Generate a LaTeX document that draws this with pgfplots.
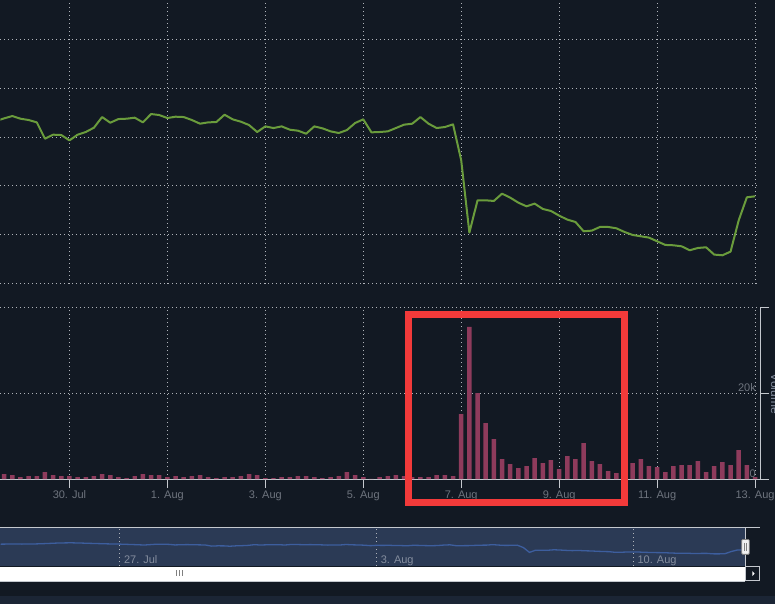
\documentclass[border=0pt]{standalone}
\usepackage{fontspec}
\setmainfont{Liberation Sans}
\usepackage{pgfplots}
\pgfplotsset{compat=1.18}
\usepackage{pgfplotstable}

\definecolor{bg}{HTML}{121923}
\definecolor{strip}{HTML}{1B2535}
\definecolor{gridc}{HTML}{B0B4BA}
\definecolor{axisc}{HTML}{C4C8CE}
\definecolor{labc}{HTML}{6E747E}
\definecolor{pricec}{HTML}{6A9C3C}
\definecolor{volc}{HTML}{8E3B5C}
\definecolor{navfill}{HTML}{2B3A55}
\definecolor{navline}{HTML}{3D5E9E}
\definecolor{navlab}{HTML}{848D9E}
\definecolor{boxred}{HTML}{F23A3A}

% 4-hour candles: idx 8 = 30 Jul 00:00, idx 92 = 13 Aug 00:00
\pgfplotstableread{
idx price
-1 3.327
0 3.381
1 3.429
2 3.374
3 3.347
4 3.299
5 2.965
6 3.047
7 3.040
8 2.931
9 3.047
10 3.102
11 3.190
12 3.408
13 3.292
14 3.367
15 3.374
16 3.395
17 3.299
18 3.470
19 3.449
20 3.388
21 3.415
22 3.408
23 3.347
24 3.272
25 3.299
26 3.306
27 3.456
28 3.361
29 3.313
30 3.245
31 3.102
32 3.217
33 3.183
34 3.217
35 3.149
36 3.129
37 3.067
38 3.217
39 3.177
40 3.115
41 3.081
42 3.142
43 3.286
44 3.361
45 3.095
46 3.102
47 3.115
48 3.183
49 3.252
50 3.272
51 3.408
52 3.272
53 3.183
54 3.204
55 3.258
56 2.522
57 1.043
58 1.704
59 1.704
60 1.691
61 1.840
62 1.759
63 1.656
64 1.581
65 1.636
66 1.527
67 1.486
68 1.391
69 1.309
70 1.261
71 1.070
72 1.084
73 1.159
74 1.159
75 1.132
76 1.057
77 0.995
78 0.968
79 0.941
80 0.866
81 0.791
82 0.784
83 0.763
84 0.682
85 0.729
86 0.743
87 0.593
88 0.579
89 0.654
90 1.295
91 1.766
92 1.786
}\pricetable

\pgfplotstableread{
idx vol
0 1165
1 932
2 466
3 699
4 699
5 1631
6 932
7 699
8 699
9 466
10 466
11 699
12 1165
13 932
14 466
15 233
16 699
17 1165
18 932
19 932
20 466
21 699
22 466
23 699
24 932
25 466
26 233
27 466
28 466
29 699
30 1165
31 932
32 233
33 233
34 466
35 466
36 699
37 699
38 466
39 233
40 466
41 699
42 1631
43 932
44 466
45 70
46 466
47 699
48 932
49 699
50 466
51 466
52 466
53 932
54 932
55 699
56 15145
57 35416
58 20038
59 13048
60 9320
61 4660
62 3495
63 2563
64 3029
65 4893
66 3728
67 4427
68 2330
69 5359
70 4660
71 8388
72 4194
73 3495
74 1864
75 1398
76 1165
77 3728
78 4660
79 3029
80 2796
81 1631
82 3029
83 3262
84 3262
85 4194
86 1631
87 3029
88 3961
89 3262
90 6757
91 3262
92 466
}\voltable

% navigator history before the zoomed range
\pgfplotstableread{
idx price
-30 3.55
-28 3.60
-26 3.58
-24 3.62
-22 3.75
-20 3.92
-18 3.98
-16 3.88
-14 3.76
-12 3.65
-10 3.58
-8 3.45
-6 3.30
-4 3.55
-2 3.50
-1 3.327
}\navtable

\pgfplotsset{
  dotgrid/.style={gridc, line width=0.9pt, dash pattern=on 0.9pt off 3.1pt},
  every axis/.append style={tick label style={overlay}},
}

\begin{document}
\begin{tikzpicture}[x=1pt,y=1pt]
\fill[bg] (0,0) rectangle (775,604);
\fill[strip] (0,0) rectangle (775,8);

% price panel
\begin{axis}[
  at={(0pt,320.67pt)}, anchor=south west, scale only axis,
  width=760pt, height=283.33pt,
  xmin=-0.449, xmax=92.61, ymin=0, ymax=5.794,
  xtick={8,20,...,92}, ytick={0,...,5},
  xticklabels={}, yticklabels={},
  grid=major, major grid style={dotgrid},
  axis line style={draw=none}, tick style={draw=none},
]
\addplot[pricec, line width=2pt, line join=round] table[x=idx,y=price]{\pricetable};
\end{axis}

% volume panel
\begin{axis}[
  at={(0pt,125pt)}, anchor=south west, scale only axis,
  width=760pt, height=172pt,
  xmin=-0.449, xmax=92.61, ymin=0, ymax=40000,
  xtick={8,20,...,92},
  xticklabels={30. Jul,1. Aug,3. Aug,5. Aug,7. Aug,9. Aug,11. Aug,13. Aug},
  ytick={0,20000,40000}, yticklabels={0,20k,},
  axis x line*=bottom, axis y line*=right,
  axis line style={axisc, line width=1pt, -},
  xmajorgrids, ymajorgrids, major grid style={dotgrid},
  tick align=outside, major tick length=9pt,
  tick style={axisc, line width=1pt},
  xticklabel style={font=\fontsize{11}{13}\selectfont, labc, anchor=base, inner sep=0pt, yshift=-10pt},
  yticklabel style={font=\fontsize{11}{13}\selectfont, labc, anchor=base east, inner sep=0pt, xshift=-13pt, yshift=2pt},
  scaled y ticks=false,
]
\addplot[ybar, bar width=4.5pt, fill=volc, draw=none] table[x=idx,y=vol]{\voltable};
\end{axis}
\node[overlay, rotate=-90, font=\fontsize{12}{14}\selectfont, text=navlab] at (775.5,210.5) {Volume};

% highlight
\draw[boxred, line width=7pt] (408.5,289.5) rectangle (624.5,101.5);

% navigator
\fill[navfill] (0,38) rectangle (745,77);
\begin{axis}[
  at={(0pt,38pt)}, anchor=south west, scale only axis,
  width=745pt, height=39pt,
  xmin=-29.52, xmax=92.26, ymin=-3.16, ymax=8.79,
  xtick={-10,32,74}, xticklabels={27. Jul,3. Aug,10. Aug},
  ytick=\empty, xmajorgrids, major grid style={dotgrid},
  axis line style={draw=none}, tick style={draw=none},
  xticklabel style={font=\fontsize{11}{13}\selectfont, navlab, anchor=base west, inner sep=0pt, xshift=4pt, yshift=3pt},
]
\addplot[navline, line width=1.3pt] table[x=idx,y=price]{\navtable};
\addplot[navline, line width=1.3pt] table[x=idx,y=price]{\pricetable};
\end{axis}
\draw[axisc, line width=1pt] (0,77) -- (760,77);
\draw[axisc, line width=1pt] (745,77) -- (745,38);

% scrollbar
\fill[white] (0,23.5) rectangle (745,37.5);
\draw[axisc, line width=1pt] (0,23) -- (745,23);
\filldraw[fill=bg, draw=axisc, line width=0.8pt] (745.7,23.3) rectangle (759.7,37.7);
\fill[white] (752.3,33) -- (754.6,30.5) -- (752.3,28) -- cycle;
\fill[gray] (175.3,28.3) rectangle (176.8,33.8);
\fill[gray] (178.3,28.3) rectangle (179.8,33.8);
\fill[gray] (181.3,28.3) rectangle (182.8,33.8);

% handle
\filldraw[fill={rgb,255:red,242;green,242;blue,242}, draw=gray, line width=0.8pt, rounded corners=1pt] (741.7,49.7) rectangle (749.3,64.7);
\draw[gray, line width=0.8pt] (744.5,53) -- (744.5,61) (746.5,53) -- (746.5,61);
\end{tikzpicture}
\end{document}
